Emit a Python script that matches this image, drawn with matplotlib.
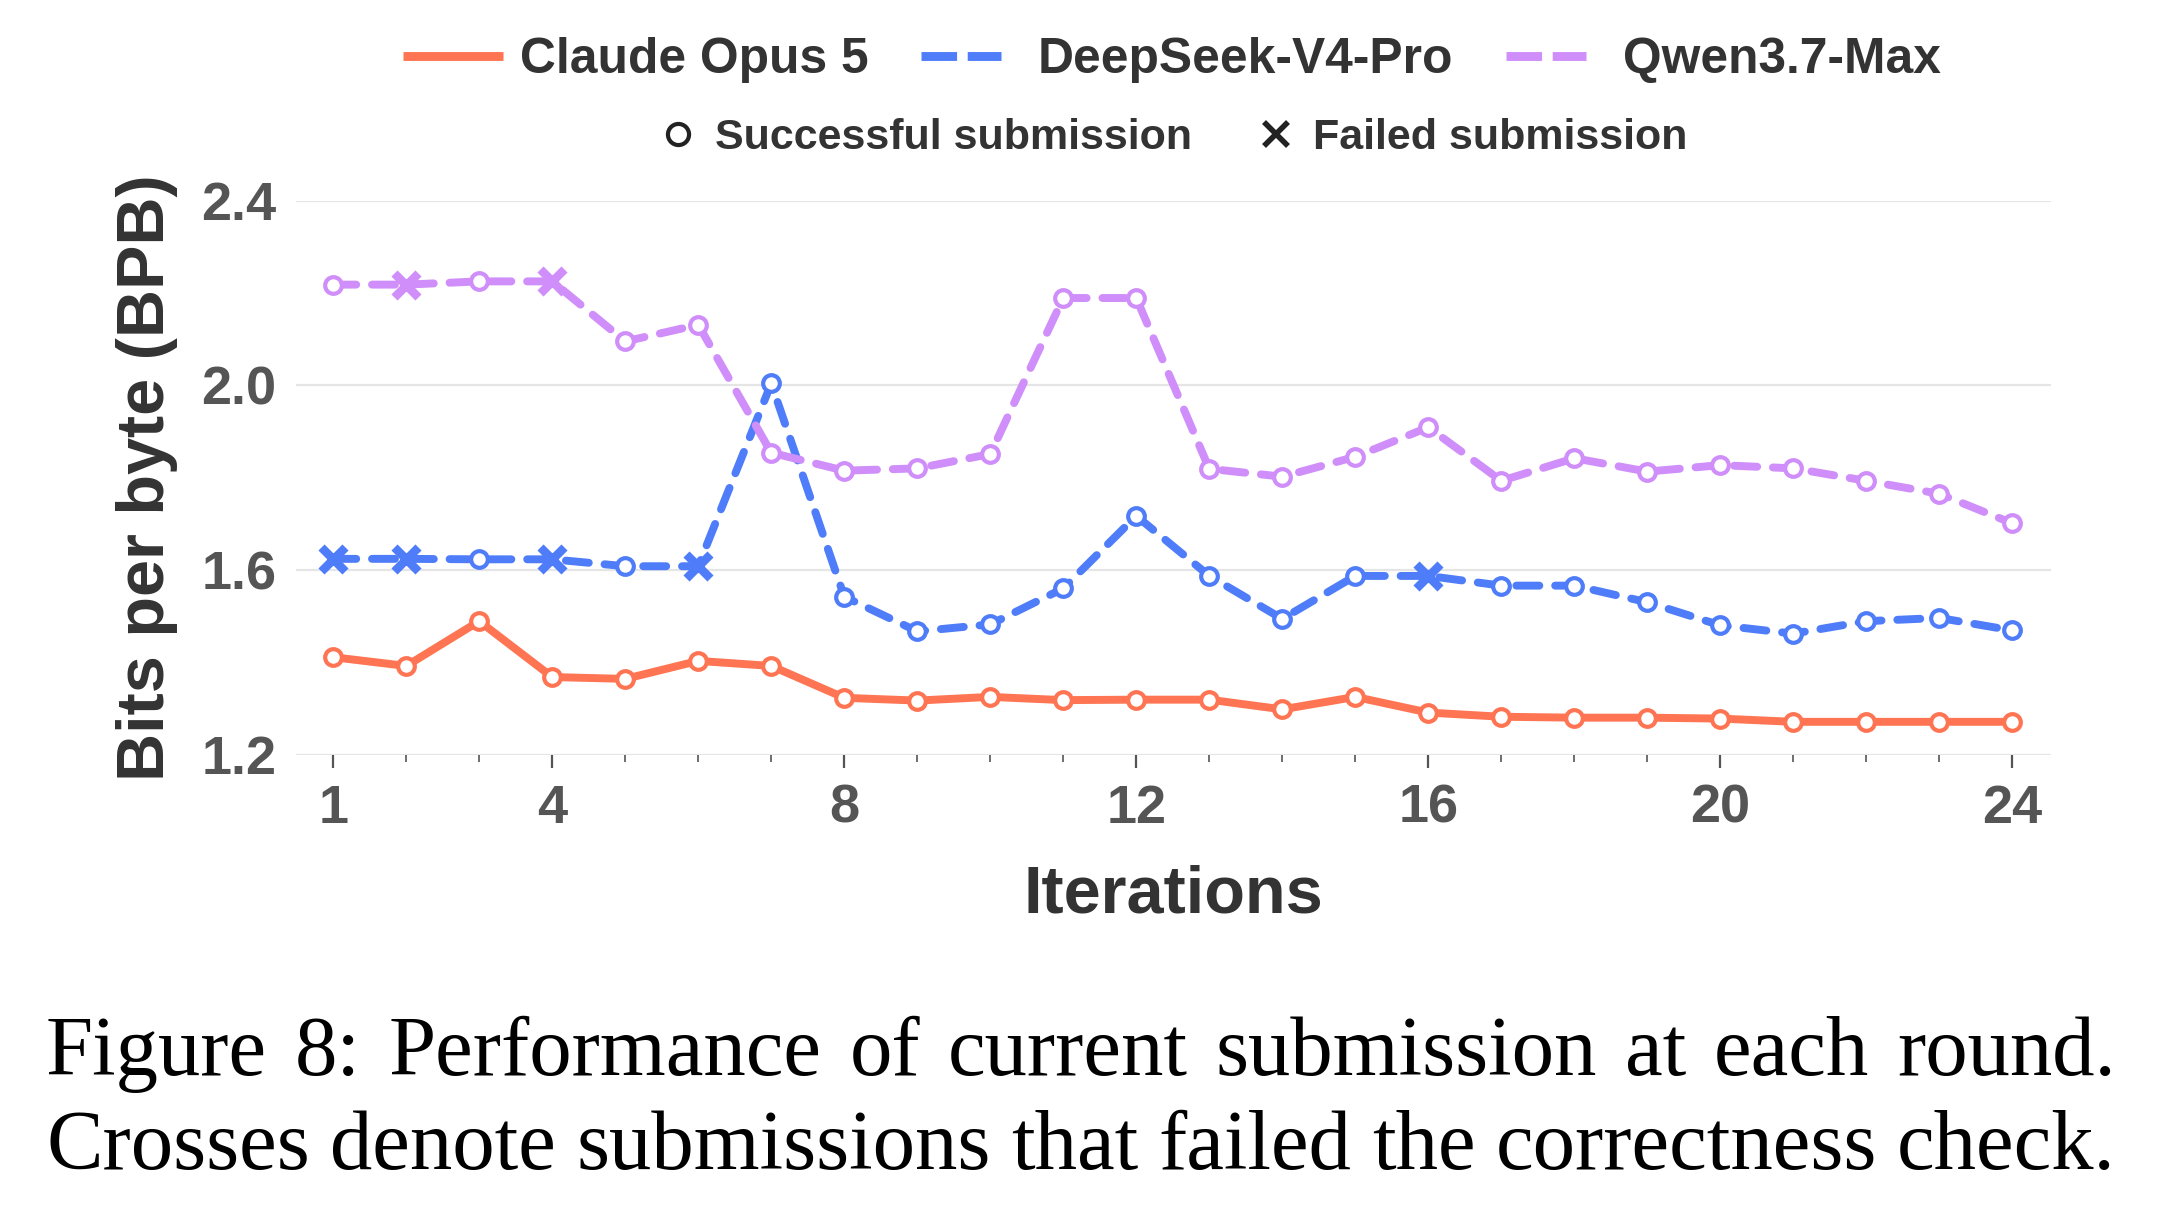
import matplotlib
matplotlib.use("Agg")
import matplotlib.pyplot as plt
from matplotlib.lines import Line2D
import numpy as np

iterations = list(range(1, 25))

claude = [1.411, 1.392, 1.489, 1.368, 1.364, 1.403, 1.392, 1.323, 1.317, 1.325, 1.318, 1.319,
          1.319, 1.298, 1.325, 1.291, 1.282, 1.280, 1.280, 1.278, 1.271, 1.271, 1.271, 1.271]
deepseek = [1.624, 1.624, 1.623, 1.623, 1.608, 1.608, 2.004, 1.542, 1.467, 1.482, 1.560, 1.717,
            1.587, 1.494, 1.587, 1.587, 1.566, 1.566, 1.530, 1.480, 1.462, 1.489, 1.496, 1.469]
qwen = [2.218, 2.218, 2.225, 2.225, 2.095, 2.131, 1.854, 1.815, 1.820, 1.851, 2.189, 2.189,
        1.819, 1.802, 1.845, 1.909, 1.793, 1.842, 1.813, 1.827, 1.820, 1.793, 1.765, 1.701]

claude_failed = []
deepseek_failed = [1, 2, 4, 6, 16]
qwen_failed = [2, 4]

series_names = ["Claude Opus 5", "DeepSeek-V4-Pro", "Qwen3.7-Max"]
marker_names = ["Successful submission", "Failed submission"]
x_major_ticks = [1, 4, 8, 12, 16, 20, 24]
y_ticks = [1.2, 1.6, 2.0, 2.4]
caption_lines = ["Figure 8: Performance of current submission at each round.",
                 "Crosses denote submissions that failed the correctness check."]

colors = ["#FF7452", "#4F7DF9", "#CF8EF9"]
styles = ["-", (0, (2.9, 2.0)), (0, (2.9, 2.0))]
leg_styles = ["-", (0, (4.0, 1.2, 3.8, 3.0)), (0, (4.0, 1.2, 3.8, 3.0))]

plt.rcParams['font.family'] = ['Liberation Sans', 'DejaVu Sans']
plt.rcParams['font.weight'] = 'bold'

W, H = 2184, 1216
dpi = 200
fig = plt.figure(figsize=(W / dpi, H / dpi), dpi=dpi)
left, right = 296 / W, 2051 / W
bottom, top = 1 - 754.6 / H, 1 - 200.6 / H
ax = fig.add_axes([left, bottom, right - left, top - bottom])

lw = 2.85
for vals, failed, col, ls in zip([claude, deepseek, qwen],
                                 [claude_failed, deepseek_failed, qwen_failed],
                                 colors, styles):
    ax.plot(iterations, vals, color=col, lw=lw, linestyle=ls, zorder=2,
            solid_capstyle='round', dash_capstyle='round', solid_joinstyle='round')
    ok_x = [i for i in iterations if i not in failed]
    ok_y = [v for i, v in zip(iterations, vals) if i not in failed]
    f_x = [i for i in iterations if i in failed]
    f_y = [v for i, v in zip(iterations, vals) if i in failed]
    ax.plot(ok_x, ok_y, linestyle='none', marker='o', markersize=6.0,
            markerfacecolor='white', markeredgecolor=col, markeredgewidth=1.5, zorder=3)
    ax.plot(f_x, f_y, linestyle='none', marker='x', markersize=8.8,
            markeredgecolor=col, markeredgewidth=3.1, zorder=3)

ax.set_xlim(0.49, 24.53)
ax.set_ylim(1.2, 2.4)
ax.set_xticks(x_major_ticks)
ax.set_xticks(iterations, minor=True)
ax.set_yticks(y_ticks)
ax.set_yticklabels([f"{v:.1f}" for v in y_ticks])
ax.tick_params(axis='x', which='major', length=4.5, width=0.8, color='#555555',
               labelsize=19.5, labelcolor='#555555', pad=6)
ax.tick_params(axis='x', which='minor', length=2.6, width=0.6, color='#555555')
ax.tick_params(axis='y', length=0, labelsize=19.5, labelcolor='#555555', pad=7)
for lab in ax.get_xticklabels() + ax.get_yticklabels():
    lab.set_fontweight('bold')
for s in ax.spines.values():
    s.set_visible(False)
ax.grid(axis='y', color='#e5e5e5', lw=0.8, zorder=0)
ax.set_axisbelow(True)

ax.set_xlabel("Iterations", fontsize=24, fontweight='bold', color='#333333', labelpad=11)
ax.set_ylabel("Bits per byte (BPB)", fontsize=24, fontweight='bold', color='#333333', labelpad=8.5)

handles1 = [Line2D([], [], color=c, lw=3.2, linestyle=ls, dash_capstyle='butt',
                   solid_capstyle='butt')
            for c, ls in zip(colors, leg_styles)]
leg1 = fig.legend(handles1, series_names, loc='center', bbox_to_anchor=(0.5366, 1 - 60 / H),
                  ncol=3, frameon=False, fontsize=17.9, handlelength=2.0,
                  handletextpad=0.34, columnspacing=1.07, borderpad=0.2)
for t in leg1.get_texts():
    t.set_color('#333333'); t.set_fontweight('bold')

handles2 = [Line2D([], [], linestyle='none', marker='o', markersize=7.6,
                   markerfacecolor='white', markeredgecolor='#222222', markeredgewidth=1.5),
            Line2D([], [], linestyle='none', marker='x', markersize=8.8,
                   markeredgecolor='#222222', markeredgewidth=2.0)]
leg2 = fig.legend(handles2, marker_names, loc='center',
                  bbox_to_anchor=(0.5365, 1 - 138 / H), ncol=2, frameon=False, fontsize=15.5,
                  handlelength=1.0, handletextpad=0.36, columnspacing=1.45, borderpad=0.2)
for t in leg2.get_texts():
    t.set_color('#333333'); t.set_fontweight('bold')

# caption (justified to the same width)
renderer = fig.canvas.get_renderer()
cap_left, cap_right = 46, 2116
cap_kw = dict(fontsize=30.5, family=['Liberation Serif'], fontweight='normal',
              color='black', ha='left', va='baseline')
for line, base in zip(caption_lines, [1075, 1169]):
    words = line.split(" ")
    tmp = [fig.text(0, 0, w, **cap_kw) for w in words]
    widths = [t.get_window_extent(renderer=renderer).width for t in tmp]
    for t in tmp:
        t.remove()
    gap = (cap_right - cap_left - sum(widths)) / (len(words) - 1)
    x = cap_left
    for w, wd in zip(words, widths):
        fig.text(x / W, 1 - base / H, w, **cap_kw)
        x += wd + gap

fig.savefig("out.png", dpi=dpi)
